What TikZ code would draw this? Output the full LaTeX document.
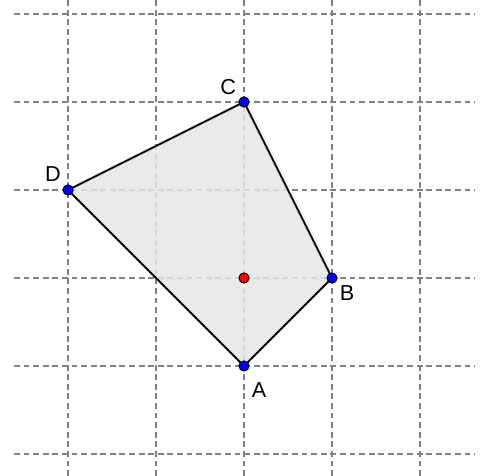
\documentclass[tikz,border=0pt]{standalone}
\usepackage{fontspec}
\setmainfont{Liberation Sans}
\usetikzlibrary{calc}
\definecolor{gridgray}{RGB}{128,128,128}
\definecolor{fillgray}{RGB}{230,230,230}
\definecolor{ptblue}{RGB}{0,0,255}
\definecolor{ptred}{RGB}{255,0,0}
\tikzset{
  gridline/.style={color=gridgray, line width=0.45pt, dash pattern=on 1.9pt off 1.2pt},
  vertex/.style={circle, draw=black, line width=0.3pt, fill=ptblue, inner sep=0pt, minimum size=3.3pt},
  ptlabel/.style={font=\fontsize{7}{8}\selectfont, inner sep=0pt}
}
\begin{document}
\begin{tikzpicture}
		\useasboundingbox (-0.773,-1.25) rectangle (4.716,4.159);
		\foreach \x in {0,...,4}
			\draw [gridline] (\x,-1.25) -- (\x,4.159);
		\foreach \y in {-1,...,4}
			\draw [gridline] (-0.614,\y) -- (4.625,\y);
		\coordinate (A) at (2,0);
		\coordinate (B) at (3,1);
		\coordinate (C) at (2,3);
		\coordinate (D) at (0,2);
		\coordinate (M) at (2,1);
		\filldraw [fill=fillgray, fill opacity=0.85, draw=black, line width=0.6pt] (A) -- (B) -- (C) -- (D) -- cycle;
		\node [vertex] (a) at (A) {};
		\node [vertex] (b) at (B) {};
		\node [vertex] (c) at (C) {};
		\node [vertex] (d) at (D) {};
		\node [vertex, fill=ptred] (m) at (M) {};
		\node [ptlabel] (la) at ($(A)+(0.17,-0.27)$) {A};
		\node [ptlabel] (lb) at ($(B)+(0.17,-0.17)$) {B};
		\node [ptlabel] (lc) at ($(C)+(-0.18,0.17)$) {C};
		\node [ptlabel] (ld) at ($(D)+(-0.17,0.18)$) {D};
	\end{tikzpicture}
\end{document}
